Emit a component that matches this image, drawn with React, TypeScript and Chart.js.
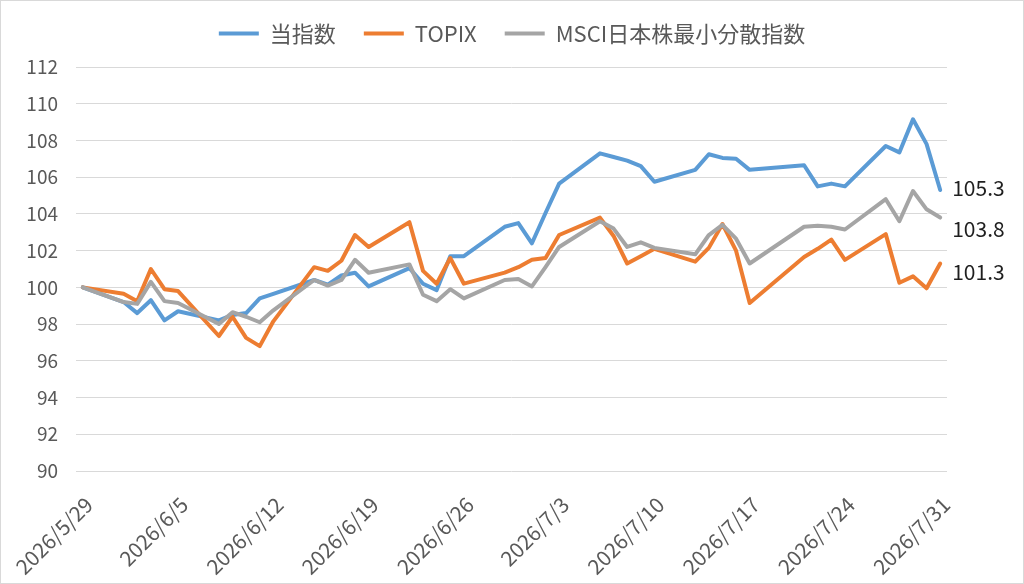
import { useEffect, useRef } from 'react';
import { Chart, registerables, Plugin } from 'chart.js';

Chart.register(...registerables);

// trading days shown in the chart (7/20 is a holiday)
const tradeDates = [
  '2026/5/29',
  '2026/6/1', '2026/6/2', '2026/6/3', '2026/6/4', '2026/6/5',
  '2026/6/8', '2026/6/9', '2026/6/10', '2026/6/11', '2026/6/12',
  '2026/6/15', '2026/6/16', '2026/6/17', '2026/6/18', '2026/6/19',
  '2026/6/22', '2026/6/23', '2026/6/24', '2026/6/25', '2026/6/26',
  '2026/6/29', '2026/6/30', '2026/7/1', '2026/7/2', '2026/7/3',
  '2026/7/6', '2026/7/7', '2026/7/8', '2026/7/9', '2026/7/10',
  '2026/7/13', '2026/7/14', '2026/7/15', '2026/7/16', '2026/7/17',
  '2026/7/21', '2026/7/22', '2026/7/23', '2026/7/24',
  '2026/7/27', '2026/7/28', '2026/7/29', '2026/7/30', '2026/7/31',
];

const indexValues = [
  100.0,
  99.2, 98.6, 99.3, 98.2, 98.7,
  98.2, 98.5, 98.6, 99.4, 99.65,
  100.4, 100.15, 100.65, 100.8, 100.05,
  101.05, 100.2, 99.85, 101.7, 101.7,
  103.3, 103.5, 102.4, 104.05, 105.65,
  107.3, 107.1, 106.9, 106.6, 105.75,
  106.4, 107.25, 107.05, 107.0, 106.4,
  106.65, 105.5, 105.65, 105.5,
  107.7, 107.35, 109.15, 107.8, 105.3,
];

const topixValues = [
  100.0,
  99.65, 99.25, 101.0, 99.9, 99.8,
  97.35, 98.4, 97.25, 96.8, 98.15,
  101.1, 100.9, 101.45, 102.85, 102.2,
  103.55, 100.9, 100.2, 101.6, 100.2,
  100.8, 101.1, 101.5, 101.6, 102.85,
  103.8, 102.8, 101.3, 101.7, 102.1,
  101.4, 102.15, 103.45, 102.0, 99.15,
  101.65, 102.1, 102.6, 101.5,
  102.9, 100.25, 100.6, 99.95, 101.3,
];

const msciValues = [
  100.0,
  99.2, 99.1, 100.3, 99.25, 99.15,
  98.0, 98.65, 98.4, 98.1, 98.75,
  100.4, 100.1, 100.4, 101.5, 100.8,
  101.25, 99.6, 99.25, 99.9, 99.4,
  100.4, 100.45, 100.05, 101.1, 102.2,
  103.6, 103.2, 102.2, 102.45, 102.15,
  101.8, 102.85, 103.4, 102.65, 101.3,
  103.3, 103.35, 103.3, 103.15,
  104.8, 103.6, 105.25, 104.25, 103.8,
];

const seriesNames = ['当指数', 'TOPIX', 'MSCI日本株最小分散指数'];
const seriesColors = ['#5B9BD5', '#ED7D31', '#A5A5A5'];

const tickDates = [
  '2026/5/29', '2026/6/5', '2026/6/12', '2026/6/19', '2026/6/26',
  '2026/7/3', '2026/7/10', '2026/7/17', '2026/7/24', '2026/7/31',
];

const FONT = '"Noto Sans CJK JP", "Noto Sans", sans-serif';
const ORIGIN = Date.UTC(2026, 4, 29);
const DAY = 86400000;

const dayOf = (s: string) => {
  const [y, m, d] = s.split('/').map(Number);
  return (Date.UTC(y, m - 1, d) - ORIGIN) / DAY;
};

const dateLabel = (v: number) => {
  const d = new Date(ORIGIN + v * DAY);
  return `${d.getUTCFullYear()}/${d.getUTCMonth() + 1}/${d.getUTCDate()}`;
};

// vertical nudge of the end labels, per series
const labelShift = [-2, 9, 11];

const endLabels: Plugin<'line'> = {
  id: 'endLabels',
  afterDatasetsDraw(chart) {
    const { ctx } = chart;
    ctx.save();
    ctx.font = `21px ${FONT}`;
    ctx.fillStyle = '#1f1f1f';
    ctx.textBaseline = 'middle';
    chart.data.datasets.forEach((ds, i) => {
      const meta = chart.getDatasetMeta(i);
      const pt = meta.data[meta.data.length - 1];
      const last = ds.data[ds.data.length - 1] as { y: number };
      ctx.fillText(last.y.toFixed(1), pt.x + 12, pt.y + labelShift[i]);
    });
    ctx.restore();
  },
};

// legend: wide item spacing without the tall box, centred on the canvas
const legendSpacing: Plugin<'line'> = {
  id: 'legendSpacing',
  beforeInit(chart: any) {
    const legend = chart.legend;
    if (!legend) return;
    const fit = legend.fit;
    legend.fit = function () {
      fit.call(this);
      this.height = 66;
    };
  },
  afterLayout(chart: any) {
    const legend = chart.legend;
    if (!legend) return;
    legend.left = 0;
    legend.right = chart.width;
    legend.width = chart.width;
    legend.top = -6.5;
    legend.bottom = legend.top + legend.height;
  },
};

export default function App() {
  const canvasRef = useRef<HTMLCanvasElement>(null);

  useEffect(() => {
    document.body.style.margin = '0';
    if (!canvasRef.current) return;

    const series = [indexValues, topixValues, msciValues];

    const chart = new Chart(canvasRef.current, {
      type: 'line',
      data: {
        datasets: series.map((values, i) => ({
          label: seriesNames[i],
          data: tradeDates.map((d, j) => ({ x: dayOf(d), y: values[j] })),
          borderColor: seriesColors[i],
          backgroundColor: seriesColors[i],
          borderWidth: 4,
          pointRadius: 0,
          tension: 0,
          borderJoinStyle: 'round' as const,
          borderCapStyle: 'round' as const,
          order: 3 - i,
        })),
      },
      options: {
        animation: false,
        responsive: true,
        maintainAspectRatio: false,
        layout: { padding: { top: 0, left: 0, right: 76, bottom: 0 } },
        plugins: {
          tooltip: { enabled: false },
          legend: {
            position: 'top',
            labels: {
              usePointStyle: true,
              pointStyle: 'line',
              pointStyleWidth: 40,
              padding: 28,
              color: '#595959',
              font: { family: FONT, size: 22 },
              sort: (a, b) => (a.datasetIndex ?? 0) - (b.datasetIndex ?? 0),
            },
          },
        },
        scales: {
          x: {
            type: 'linear',
            min: -0.5,
            max: 63.5,
            afterBuildTicks: (axis) => {
              axis.ticks = tickDates.map((d) => ({ value: dayOf(d) }));
            },
            afterFit: (axis) => {
              axis.paddingLeft = 0;
              axis.paddingRight = 0;
              axis.height = 112;
            },
            grid: { display: false, drawTicks: false },
            border: { display: false },
            ticks: {
              autoSkip: false,
              minRotation: 45,
              maxRotation: 45,
              padding: 21,
              labelOffset: 6,
              color: '#595959',
              font: { family: FONT, size: 21 },
              callback: (v) => dateLabel(Number(v)),
            },
          },
          y: {
            min: 90,
            max: 112,
            afterFit: (axis) => {
              axis.width = 75;
            },
            grid: { color: '#d9d9d9', lineWidth: 1, drawTicks: false },
            border: { display: false },
            ticks: {
              stepSize: 2,
              padding: 18,
              color: '#595959',
              font: { family: FONT, size: 19 },
            },
          },
        },
      },
      plugins: [endLabels, legendSpacing],
    });

    return () => {
      chart.destroy();
    };
  }, []);

  return (
    <div
      style={{
        width: 1024,
        height: 584,
        boxSizing: 'border-box',
        border: '1px solid #d9d9d9',
        position: 'relative',
        background: '#fff',
      }}
    >
      <canvas ref={canvasRef} />
    </div>
  );
}
